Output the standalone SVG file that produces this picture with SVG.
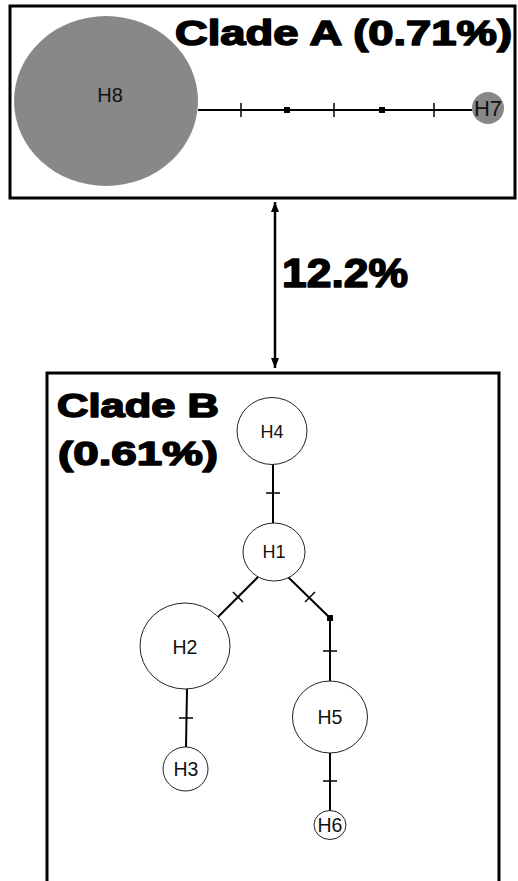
<svg xmlns="http://www.w3.org/2000/svg" width="518" height="881" viewBox="0 0 518 881">
<defs>
<style>
.box{fill:none;stroke:#000;stroke-width:3}
.title{font-family:"Liberation Sans",Arial,sans-serif;font-weight:bold;fill:#000;stroke:#000;stroke-width:1.6;stroke-linejoin:round}
.lbl{font-family:"Liberation Sans",Arial,sans-serif;fill:#111;text-anchor:middle}
.hap{fill:#fff;stroke:#222;stroke-width:1}
.hapg{fill:#888;stroke:none}
.edge{stroke:#000;stroke-width:2;fill:none}
.tick{stroke:#000;stroke-width:1.5;fill:none}
</style>
<marker id="ah" viewBox="0 0 10 20" refX="10" refY="10" markerWidth="10" markerHeight="20" markerUnits="userSpaceOnUse" orient="auto-start-reverse">
<path d="M0,6 L10,10 L0,14 Z" fill="#000"/>
</marker>
</defs>
<rect x="0" y="0" width="518" height="881" fill="#fff"/>
<g id="cladeA">
<rect class="box" x="10" y="6" width="505" height="192"/>
<text class="title" x="175" y="45" font-size="35" textLength="337" lengthAdjust="spacingAndGlyphs">Clade A (0.71%)</text>
</g>
<g id="cladeB">
<rect class="box" x="47" y="373" width="452" height="520"/>
<text class="title" x="57" y="417" font-size="34" textLength="162" lengthAdjust="spacingAndGlyphs">Clade B</text>
<text class="title" x="58" y="465" font-size="34" textLength="160" lengthAdjust="spacingAndGlyphs">(0.61%)</text>
</g>
<g id="connectors">
<line class="edge" x1="198" y1="110" x2="472" y2="110"/>
<line class="tick" x1="241" y1="103" x2="241" y2="117"/>
<line class="tick" x1="334" y1="103" x2="334" y2="117"/>
<line class="tick" x1="434" y1="103" x2="434" y2="117"/>
<rect x="284" y="107" width="6" height="6" fill="#000"/>
<rect x="379" y="107" width="6" height="6" fill="#000"/>
<line x1="275" y1="202" x2="275" y2="368" stroke="#000" stroke-width="2.5" marker-start="url(#ah)" marker-end="url(#ah)"/>
<line class="edge" x1="273" y1="464" x2="273" y2="523"/>
<line class="tick" x1="266" y1="493" x2="280" y2="493"/>
<line class="edge" x1="258" y1="577" x2="218" y2="617"/>
<line class="tick" x1="233" y1="592" x2="243" y2="602"/>
<polyline class="edge" points="288,577 330,618 330,681"/>
<line class="tick" x1="305" y1="602" x2="315" y2="592"/>
<rect x="327" y="615" width="6" height="6" fill="#000"/>
<line class="tick" x1="323" y1="651" x2="337" y2="651"/>
<line class="edge" x1="330" y1="753" x2="330" y2="811"/>
<line class="tick" x1="323" y1="781" x2="337" y2="781"/>
<line class="edge" x1="187" y1="689" x2="186" y2="747"/>
<line class="tick" x1="179" y1="718" x2="193" y2="718"/>
</g>
<g id="H8"><ellipse class="hapg" cx="106" cy="101" rx="92" ry="85"/><text class="lbl" x="110" y="102" font-size="20">H8</text></g>
<g id="H7"><circle class="hapg" cx="488" cy="108" r="16"/><text class="lbl" x="488" y="116" font-size="22">H7</text></g>
<g id="pct"><text class="title" x="282" y="287" font-size="41" textLength="126" lengthAdjust="spacingAndGlyphs">12.2%</text></g>
<g id="H4"><ellipse class="hap" cx="272" cy="431" rx="35" ry="33.5"/><text class="lbl" x="272" y="438" font-size="18">H4</text></g>
<g id="H1"><ellipse class="hap" cx="274" cy="552" rx="31" ry="29"/><text class="lbl" x="274" y="558" font-size="18">H1</text></g>
<g id="H2"><ellipse class="hap" cx="185" cy="646" rx="45" ry="43"/><text class="lbl" x="185" y="654" font-size="19.5">H2</text></g>
<g id="H3"><ellipse class="hap" cx="185.5" cy="769" rx="22.5" ry="22"/><text class="lbl" x="186" y="776" font-size="19.5">H3</text></g>
<g id="H5"><ellipse class="hap" cx="330" cy="717" rx="37.5" ry="36"/><text class="lbl" x="330" y="724" font-size="19.5">H5</text></g>
<g id="H6"><ellipse class="hap" cx="330" cy="825" rx="16" ry="14.5"/><text class="lbl" x="330" y="832" font-size="19.5">H6</text></g>
</svg>
